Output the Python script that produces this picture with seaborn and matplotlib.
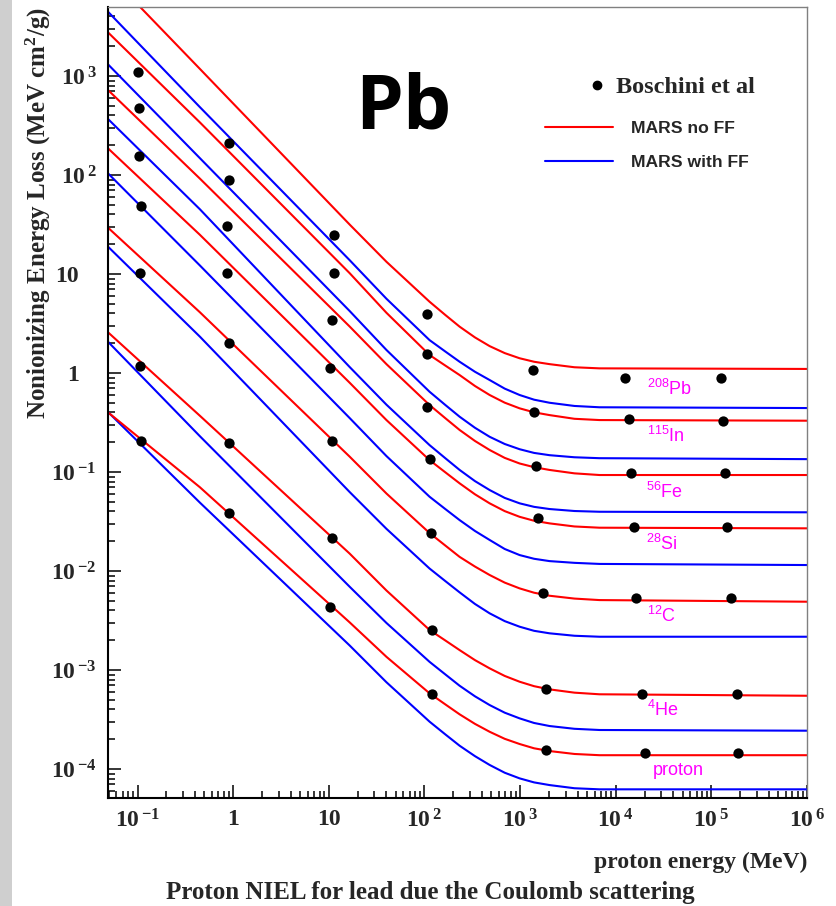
import matplotlib
matplotlib.use("Agg")
import matplotlib.pyplot as plt
import seaborn as sns
import pandas as pd
from matplotlib.ticker import LogLocator, NullFormatter
from matplotlib.lines import Line2D
from matplotlib.patches import Rectangle
from matplotlib.font_manager import FontProperties
from matplotlib.transforms import ScaledTranslation

# --- data ------------------------------------------------------------------
nuclei = ["208Pb", "115In", "56Fe", "28Si", "12C", "4He", "proton"]

# proton energy (MeV) at which the MARS curves were read
energy_grid = [0.049, 0.448, 16.5, 40, 113, 165, 233, 337, 480, 690, 988, 1400,
               2030, 3700, 6760, 1.0e6]

# MARS without form factor (red)
no_ff_pb = [10800, 1180, 31.6, 13.3, 5.25, 3.86, 2.94, 2.29, 1.87, 1.59, 1.41, 1.30,
            1.23, 1.144, 1.115, 1.10]
no_ff_in = [2760, 340, 10.2, 4.06, 1.52, 1.19, 0.954, 0.740, 0.600, 0.502, 0.440, 0.401,
            0.376, 0.345, 0.335, 0.330]
no_ff_fe = [722, 92.0, 2.95, 1.23, 0.475, 0.350, 0.266, 0.206, 0.167, 0.139, 0.122, 0.112,
            0.105, 0.097, 0.0933, 0.0933]
no_ff_si = [186, 24.9, 0.798, 0.335, 0.132, 0.0994, 0.0769, 0.0596, 0.0483, 0.0403, 0.0353,
            0.0322, 0.0303, 0.0282, 0.0274, 0.0270]
no_ff_c = [29.4, 4.11, 0.143, 0.0607, 0.0242, 0.0181, 0.0139, 0.0111, 0.00912, 0.00764,
           0.00668, 0.00604, 0.00563, 0.00527, 0.00509, 0.00490]
no_ff_he = [2.58, 0.370, 0.0150, 0.00636, 0.00254, 0.00199, 0.00159, 0.00126, 0.00104,
            0.000872, 0.000762, 0.000687, 0.000638, 0.000591, 0.000569, 0.000550]
no_ff_p = [0.401, 0.0702, 0.00303, 0.00136, 0.000582, 0.000450, 0.000357, 0.000286,
           0.000238, 0.000202, 0.000179, 0.000162, 0.000152, 0.000142, 0.000138, 0.000138]

# MARS with form factor (blue)
ff_pb = [4460, 485, 13.8, 5.63, 2.15, 1.65, 1.30, 1.03, 0.850, 0.696, 0.600, 0.538,
         0.501, 0.465, 0.451, 0.443]
ff_in = [1312, 148, 4.23, 1.71, 0.647, 0.476, 0.362, 0.280, 0.227, 0.192, 0.170, 0.156,
         0.148, 0.141, 0.138, 0.135]
ff_fe = [368, 45.1, 1.15, 0.479, 0.187, 0.138, 0.105, 0.0810, 0.0658, 0.0548, 0.0483,
         0.0445, 0.0423, 0.0404, 0.0397, 0.0392]
ff_si = [104, 12.2, 0.351, 0.145, 0.0563, 0.0423, 0.0327, 0.0254, 0.0206, 0.0167, 0.0145,
         0.0133, 0.0126, 0.0121, 0.0118, 0.0115]
ff_c = [18.9, 2.33, 0.0628, 0.0267, 0.0106, 0.00792, 0.00609, 0.00465, 0.00374, 0.00312,
        0.00274, 0.00249, 0.00235, 0.00222, 0.00217, 0.00217]
ff_he = [2.07, 0.230, 0.00694, 0.00299, 0.00121, 0.000904, 0.000694, 0.000543, 0.000443,
         0.000371, 0.000325, 0.000292, 0.000272, 0.000255, 0.000248, 0.000244]
ff_p = [0.404, 0.0491, 0.00177, 0.000753, 0.000301, 0.000224, 0.000172, 0.000135,
        0.000110, 9.18e-5, 8.05e-5, 7.33e-5, 6.89e-5, 6.4e-5, 6.24e-5, 6.24e-5]

# Boschini et al points
bos_e_pb = [0.10, 0.906, 11.2, 107, 1350, 1.26e4, 1.26e5]
bos_pb = [1100, 209, 24.8, 3.95, 1.07, 0.90, 0.90]
bos_e_in = [0.103, 0.906, 11.2, 106, 1380, 1.37e4, 1.33e5]
bos_in = [472, 89, 10.3, 1.56, 0.40, 0.34, 0.33]
bos_e_fe = [0.104, 0.864, 10.7, 107, 1480, 1.43e4, 1.39e5]
bos_fe = [157, 30.7, 3.43, 0.457, 0.115, 0.097, 0.098]
bos_e_si = [0.108, 0.864, 10.2, 113, 1550, 1.56e4, 1.46e5]
bos_si = [49, 10.2, 1.13, 0.134, 0.034, 0.0276, 0.028]
bos_e_c = [0.106, 0.906, 10.7, 116, 1730, 1.64e4, 1.62e5]
bos_c = [10.2, 2.0, 0.206, 0.0244, 0.0060, 0.0053, 0.0053]
bos_e_he = [0.107, 0.906, 10.9, 120, 1860, 1.89e4, 1.86e5]
bos_he = [1.18, 0.195, 0.0214, 0.00254, 6.4e-4, 5.7e-4, 5.7e-4]
bos_e_p = [0.108, 0.906, 10.2, 120, 1860, 2.0e4, 1.89e5]
bos_p = [0.205, 0.0383, 0.0043, 5.72e-4, 1.56e-4, 1.46e-4, 1.46e-4]

nucleus_labels = [r"$\mathregular{^{208}}$Pb", r"$\mathregular{^{115}}$In",
                  r"$\mathregular{^{56}}$Fe", r"$\mathregular{^{28}}$Si",
                  r"$\mathregular{^{12}}$C", r"$\mathregular{^{4}}$He", "proton"]

x_ticks = [1e-1, 1, 10, 1e2, 1e3, 1e4, 1e5, 1e6]
x_ticklabels = [r"$\mathregular{10^{\,{-}1}}$", "1", "10", r"$\mathregular{10^{\,2}}$",
                r"$\mathregular{10^{\,3}}$", r"$\mathregular{10^{\,4}}$",
                r"$\mathregular{10^{\,5}}$", r"$\mathregular{10^{\,6}}$"]
y_ticks = [1e-4, 1e-3, 1e-2, 1e-1, 1, 10, 1e2, 1e3]
y_ticklabels = [r"$\mathregular{10^{\,{-}4}}$", r"$\mathregular{10^{\,{-}3}}$",
                r"$\mathregular{10^{\,{-}2}}$", r"$\mathregular{10^{\,{-}1}}$",
                "1", "10", r"$\mathregular{10^{\,2}}$", r"$\mathregular{10^{\,3}}$"]

# --- tables -----------------------------------------------------------------
no_ff = [no_ff_pb, no_ff_in, no_ff_fe, no_ff_si, no_ff_c, no_ff_he, no_ff_p]
with_ff = [ff_pb, ff_in, ff_fe, ff_si, ff_c, ff_he, ff_p]
bos_e = [bos_e_pb, bos_e_in, bos_e_fe, bos_e_si, bos_e_c, bos_e_he, bos_e_p]
bos_v = [bos_pb, bos_in, bos_fe, bos_si, bos_c, bos_he, bos_p]

curves = pd.concat(
    [pd.DataFrame({"energy": energy_grid, "niel": v, "nucleus": n, "model": "MARS with FF"})
     for n, v in zip(nuclei, with_ff)] +
    [pd.DataFrame({"energy": energy_grid, "niel": v, "nucleus": n, "model": "MARS no FF"})
     for n, v in zip(nuclei, no_ff)],
    ignore_index=True)
points = pd.concat(
    [pd.DataFrame({"energy": e, "niel": v, "nucleus": n})
     for n, e, v in zip(nuclei, bos_e, bos_v)],
    ignore_index=True)

# --- plot -------------------------------------------------------------------
sns.set_theme(style="white")
plt.rcParams["font.family"] = ["Liberation Serif", "DejaVu Sans"]

W, H = 836, 906
fig = plt.figure(figsize=(W / 100, H / 100), dpi=100)
fig.add_artist(Rectangle((0, 0), 12 / W, 1, transform=fig.transFigure,
                         facecolor="#cfcfcf", edgecolor="none", zorder=0))
ax = fig.add_axes([108 / W, 1 - 798 / H, (807 - 108) / W, (798 - 7) / H])
ax.set_xscale("log")
ax.set_yscale("log")

sns.lineplot(data=curves, x="energy", y="niel", hue="model", units="nucleus",
             estimator=None, palette={"MARS no FF": "#ff0000", "MARS with FF": "#0000ff"},
             linewidth=1.5, legend=False, ax=ax)
sns.scatterplot(data=points, x="energy", y="niel", color="black", s=55,
                linewidth=0, legend=False, ax=ax, zorder=3)

ax.set_xlim(0.049, 1e6)
ax.set_ylim(5.1e-5, 4980)

tickfont = dict(fontfamily="Liberation Serif", fontweight="bold", fontsize=17)
ax.set_xticks(x_ticks, labels=x_ticklabels, **tickfont)
ax.set_yticks(y_ticks, labels=y_ticklabels, **tickfont)
for axis in (ax.xaxis, ax.yaxis):
    axis.set_minor_locator(LogLocator(base=10, subs=range(2, 10), numticks=100))
    axis.set_minor_formatter(NullFormatter())
ax.tick_params(which="both", direction="in", bottom=True, left=True,
               top=False, right=False, color="black", width=1.1)
ax.tick_params(which="major", length=9.5)
ax.tick_params(which="minor", length=5)
ax.tick_params(axis="x", which="major", pad=8)
ax.tick_params(axis="y", which="major", pad=8)

# ROOT style: plain "1" and "10" sit where the mantissa of 10^n sits
shift = ScaledTranslation(-0.18, 0, fig.dpi_scale_trans)
for lab in ax.get_yticklabels():
    if lab.get_text() in ("1", "10"):
        lab.set_transform(lab.get_transform() + shift)

for side in ("left", "bottom"):
    ax.spines[side].set_color("black")
    ax.spines[side].set_linewidth(1.5)
for side in ("top", "right"):
    ax.spines[side].set_color("#808080")
    ax.spines[side].set_linewidth(1.0)

ax.set_xlabel("proton energy (MeV)", fontfamily="Liberation Serif",
              fontweight="bold", fontsize=17, ha="right")
ax.xaxis.set_label_coords(1.0, -0.068)
ax.set_ylabel(r"Nonionizing Energy Loss (MeV cm$\mathregular{^{2}}$/g)",
              fontfamily="Liberation Serif", fontweight="bold", fontsize=18)
ax.yaxis.set_label_coords(-0.078, 0.74)

fig.text(430 / W, 1 - 892 / H, "Proton NIEL for lead due the Coulomb scattering",
         ha="center", va="center", fontfamily="Liberation Serif",
         fontweight="bold", fontsize=18)
fig.text(403 / W, 1 - 109 / H, "Pb", ha="center", va="center",
         fontfamily="Open Sans", fontweight="bold", fontsize=55, color="black")

# nucleus labels (left edge in MeV, baseline in NIEL units)
label_x = [2.1e4, 2.1e4, 2.08e4, 2.08e4, 2.13e4, 2.13e4, 2.43e4]
label_y = [0.600, 0.201, 0.0546, 0.0163, 0.00308, 3.43e-4, 8.7e-5]
for txt, lx, ly in zip(nucleus_labels, label_x, label_y):
    ax.text(lx, ly, txt, color="#ff00ff", fontfamily="Liberation Sans",
            fontsize=13, ha="left", va="baseline")

# legends
dot_handle = Line2D([], [], marker="o", linestyle="none", color="black", markersize=6)
leg1 = ax.legend([dot_handle], ["Boschini et al"], loc="center left",
                 bbox_to_anchor=(590 / W, 1 - 87 / H), bbox_transform=fig.transFigure,
                 frameon=False, borderpad=0, borderaxespad=0, handlelength=0.6,
                 handletextpad=0.47,
                 prop=FontProperties(family="Liberation Serif", weight="bold", size=17.5))
ax.add_artist(leg1)
line_handles = [Line2D([], [], color="#ff0000", lw=1.5), Line2D([], [], color="#0000ff", lw=1.5)]
ax.legend(line_handles, ["MARS no FF", "MARS with FF"], loc="center left",
          bbox_to_anchor=(545 / W, 1 - 145.5 / H), bbox_transform=fig.transFigure,
          frameon=False, borderpad=0, borderaxespad=0, handlelength=3.86,
          handletextpad=1.08, labelspacing=1.07,
          prop=FontProperties(family="Liberation Sans", weight="bold", size=12.6))

fig.savefig("out.png", dpi=100)
